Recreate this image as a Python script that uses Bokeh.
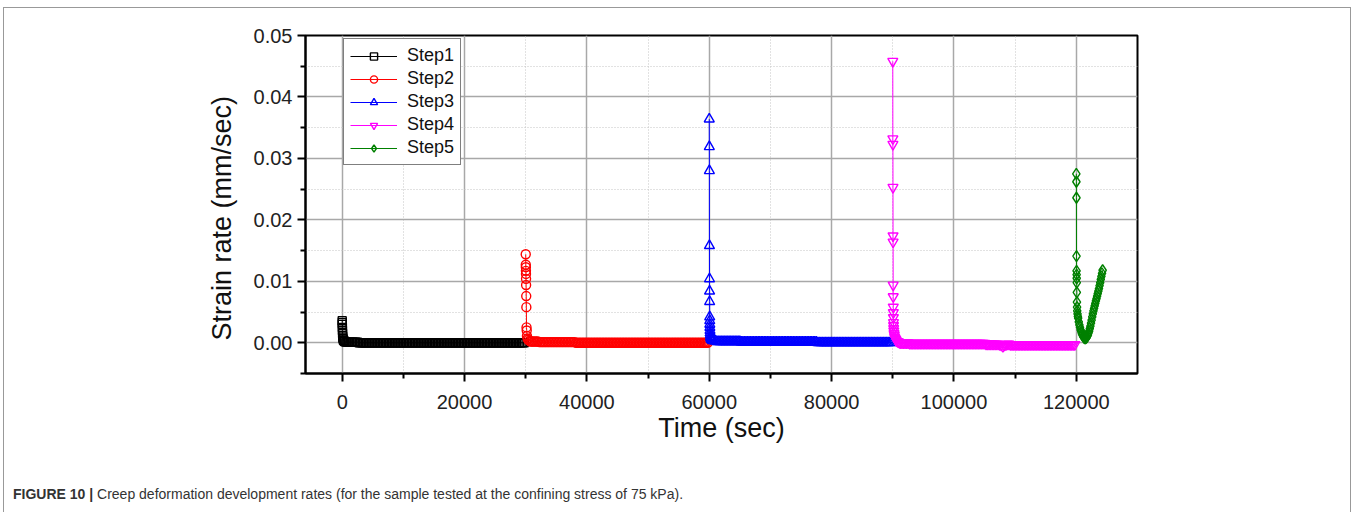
from bokeh.plotting import figure
from bokeh.models import (FixedTicker, PrintfTickFormatter, Legend, LegendItem,
                          Title, Range1d, Div)
from bokeh.layouts import column
from bokeh.embed import file_html
from bokeh.resources import INLINE

# ---------------- data ----------------
x_ticks = [0, 20000, 40000, 60000, 80000, 100000, 120000]
x_minor = [10000, 30000, 50000, 70000, 90000, 110000]
y_ticks = [0.00, 0.01, 0.02, 0.03, 0.04, 0.05]
y_minor = [-0.005, 0.005, 0.015, 0.025, 0.035, 0.045]

# Step 1: initial decay + long near-zero band
t1_start = [0, 10, 20, 30, 40, 60, 80, 100, 150, 200, 300, 400, 600, 800, 1000]
r1_start = [0.0036, 0.0033, 0.0030, 0.0025, 0.0020, 0.0015, 0.0011, 0.0008, 0.0006, 0.0004, 0.0003, 0.0002, 0.0001, 0.0001, 0.0001]
t1_band = [1250, 1500, 1750, 2000, 2250, 2500, 2750, 3000, 3250, 3500, 3750, 4000,
           4250, 4500, 4750, 5000, 5250, 5500, 5750, 6000, 6250, 6500, 6750, 7000,
           7250, 7500, 7750, 8000, 8250, 8500, 8750, 9000, 9250, 9500, 9750, 10000,
           10250, 10500, 10750, 11000, 11250, 11500, 11750, 12000, 12250, 12500, 12750, 13000,
           13250, 13500, 13750, 14000, 14250, 14500, 14750, 15000, 15250, 15500, 15750, 16000,
           16250, 16500, 16750, 17000, 17250, 17500, 17750, 18000, 18250, 18500, 18750, 19000,
           19250, 19500, 19750, 20000, 20250, 20500, 20750, 21000, 21250, 21500, 21750, 22000,
           22250, 22500, 22750, 23000, 23250, 23500, 23750, 24000, 24250, 24500, 24750, 25000,
           25250, 25500, 25750, 26000, 26250, 26500, 26750, 27000, 27250, 27500, 27750, 28000,
           28250, 28500, 28750, 29000, 29250, 29500, 29750]
r1_band = [0.0001, 0.0001, 0.0001, 0.0001, 0.0001, 0.0001, 0.0000, 0.0000, 0.0000, 0.0000, 0.0000, 0.0000,
           0.0000, 0.0000, 0.0000, 0.0000, 0.0000, 0.0000, 0.0000, 0.0000, 0.0000, 0.0000, 0.0000, 0.0000,
           0.0000, 0.0000, 0.0000, 0.0000, 0.0000, 0.0000, 0.0000, 0.0000, 0.0000, 0.0000, 0.0000, 0.0000,
           0.0000, 0.0000, 0.0000, 0.0000, 0.0000, 0.0000, 0.0000, 0.0000, 0.0000, 0.0000, 0.0000, 0.0000,
           0.0000, 0.0000, 0.0000, 0.0000, 0.0000, 0.0000, 0.0000, 0.0000, 0.0000, 0.0000, 0.0000, 0.0000,
           0.0000, 0.0000, 0.0000, 0.0000, 0.0000, 0.0000, 0.0000, 0.0000, 0.0000, 0.0000, 0.0000, 0.0000,
           0.0000, 0.0000, 0.0000, 0.0000, 0.0000, 0.0000, 0.0000, 0.0000, 0.0000, 0.0000, 0.0000, 0.0000,
           0.0000, 0.0000, 0.0000, 0.0000, 0.0000, 0.0000, 0.0000, 0.0000, 0.0000, 0.0000, 0.0000, 0.0000,
           0.0000, 0.0000, 0.0000, 0.0000, 0.0000, 0.0000, 0.0000, 0.0000, 0.0000, 0.0000, 0.0000, 0.0000,
           0.0000, 0.0000, 0.0000, 0.0000, 0.0000, 0.0000, 0.0000]

# Step 2
t2_start = [30000, 30010, 30020, 30030, 30040, 30050, 30060, 30080, 30100, 30130, 30160, 30200, 30300, 30400, 30600, 30800, 31000]
r2_start = [0.0144, 0.0127, 0.0123, 0.0117, 0.0112, 0.0104, 0.0094, 0.0076, 0.0058, 0.0025, 0.0020, 0.0011, 0.0007, 0.0005, 0.0003, 0.0002, 0.0002]
t2_band = [31250, 31500, 31750, 32000, 32250, 32500, 32750, 33000, 33250, 33500, 33750, 34000,
           34250, 34500, 34750, 35000, 35250, 35500, 35750, 36000, 36250, 36500, 36750, 37000,
           37250, 37500, 37750, 38000, 38250, 38500, 38750, 39000, 39250, 39500, 39750, 40000,
           40250, 40500, 40750, 41000, 41250, 41500, 41750, 42000, 42250, 42500, 42750, 43000,
           43250, 43500, 43750, 44000, 44250, 44500, 44750, 45000, 45250, 45500, 45750, 46000,
           46250, 46500, 46750, 47000, 47250, 47500, 47750, 48000, 48250, 48500, 48750, 49000,
           49250, 49500, 49750, 50000, 50250, 50500, 50750, 51000, 51250, 51500, 51750, 52000,
           52250, 52500, 52750, 53000, 53250, 53500, 53750, 54000, 54250, 54500, 54750, 55000,
           55250, 55500, 55750, 56000, 56250, 56500, 56750, 57000, 57250, 57500, 57750, 58000,
           58250, 58500, 58750, 59000, 59250, 59500, 59750]
r2_band = [0.0002, 0.0002, 0.0002, 0.0002, 0.0001, 0.0001, 0.0001, 0.0001, 0.0001, 0.0001, 0.0001, 0.0001,
           0.0001, 0.0001, 0.0001, 0.0001, 0.0001, 0.0001, 0.0001, 0.0001, 0.0001, 0.0001, 0.0001, 0.0001,
           0.0001, 0.0001, 0.0001, 0.0001, 0.0000, 0.0000, 0.0000, 0.0000, 0.0000, 0.0000, 0.0000, 0.0000,
           0.0000, 0.0000, 0.0000, 0.0000, 0.0000, 0.0000, 0.0000, 0.0000, 0.0000, 0.0000, 0.0000, 0.0000,
           0.0000, 0.0000, 0.0000, 0.0000, 0.0000, 0.0000, 0.0000, 0.0000, 0.0000, 0.0000, 0.0000, 0.0000,
           0.0000, 0.0000, 0.0000, 0.0000, 0.0000, 0.0000, 0.0000, 0.0000, 0.0000, 0.0000, 0.0000, 0.0000,
           0.0000, 0.0000, 0.0000, 0.0000, 0.0000, 0.0000, 0.0000, 0.0000, 0.0000, 0.0000, 0.0000, 0.0000,
           0.0000, 0.0000, 0.0000, 0.0000, 0.0000, 0.0000, 0.0000, 0.0000, 0.0000, 0.0000, 0.0000, 0.0000,
           0.0000, 0.0000, 0.0000, 0.0000, 0.0000, 0.0000, 0.0000, 0.0000, 0.0000, 0.0000, 0.0000, 0.0000,
           0.0000, 0.0000, 0.0000, 0.0000, 0.0000, 0.0000, 0.0000]

# Step 3
t3_start = [60000, 60010, 60020, 60030, 60040, 60050, 60060, 60070, 60080, 60090, 60100, 60120, 60140, 60170, 60200, 60250, 60300, 60400, 60500, 60700, 61000]
r3_start = [0.0364, 0.0319, 0.0280, 0.0158, 0.0104, 0.0084, 0.0067, 0.0042, 0.0036, 0.0030, 0.0025, 0.0020, 0.0016, 0.0013, 0.0010, 0.0008, 0.0006, 0.0005, 0.0004, 0.0003, 0.0003]
t3_band = [61250, 61500, 61750, 62000, 62250, 62500, 62750, 63000, 63250, 63500, 63750, 64000,
           64250, 64500, 64750, 65000, 65250, 65500, 65750, 66000, 66250, 66500, 66750, 67000,
           67250, 67500, 67750, 68000, 68250, 68500, 68750, 69000, 69250, 69500, 69750, 70000,
           70250, 70500, 70750, 71000, 71250, 71500, 71750, 72000, 72250, 72500, 72750, 73000,
           73250, 73500, 73750, 74000, 74250, 74500, 74750, 75000, 75250, 75500, 75750, 76000,
           76250, 76500, 76750, 77000, 77250, 77500, 77750, 78000, 78250, 78500, 78750, 79000,
           79250, 79500, 79750, 80000, 80250, 80500, 80750, 81000, 81250, 81500, 81750, 82000,
           82250, 82500, 82750, 83000, 83250, 83500, 83750, 84000, 84250, 84500, 84750, 85000,
           85250, 85500, 85750, 86000, 86250, 86500, 86750, 87000, 87250, 87500, 87750, 88000,
           88250, 88500, 88750, 89000, 89250, 89500, 89750]
r3_band = [0.0002, 0.0002, 0.0002, 0.0002, 0.0002, 0.0002, 0.0002, 0.0002, 0.0002, 0.0002, 0.0002, 0.0002,
           0.0002, 0.0002, 0.0002, 0.0002, 0.0001, 0.0001, 0.0001, 0.0001, 0.0001, 0.0001, 0.0001, 0.0001,
           0.0001, 0.0001, 0.0001, 0.0001, 0.0001, 0.0001, 0.0001, 0.0001, 0.0001, 0.0001, 0.0001, 0.0001,
           0.0001, 0.0001, 0.0001, 0.0001, 0.0001, 0.0001, 0.0001, 0.0001, 0.0001, 0.0001, 0.0001, 0.0001,
           0.0001, 0.0001, 0.0001, 0.0001, 0.0001, 0.0001, 0.0001, 0.0001, 0.0001, 0.0001, 0.0001, 0.0001,
           0.0001, 0.0001, 0.0001, 0.0001, 0.0001, 0.0001, 0.0000, 0.0000, 0.0000, 0.0000, 0.0000, 0.0000,
           0.0000, 0.0000, 0.0000, 0.0000, 0.0000, 0.0000, 0.0000, 0.0000, 0.0000, 0.0000, 0.0000, 0.0000,
           0.0000, 0.0000, 0.0000, 0.0000, 0.0000, 0.0000, 0.0000, 0.0000, 0.0000, 0.0000, 0.0000, 0.0000,
           0.0000, 0.0000, 0.0000, 0.0000, 0.0000, 0.0000, 0.0000, 0.0000, 0.0000, 0.0000, 0.0000, 0.0000,
           0.0000, 0.0000, 0.0000, 0.0000, 0.0000, 0.0000, 0.0000]

# Step 4
t4_start = [90000, 90010, 90020, 90030, 90040, 90050, 90060, 90070, 90080, 90090, 90100, 90110, 90120, 90140, 90160,
            90200, 90250, 90300, 90400, 90500, 90600, 90800, 91000, 91200, 91500]
r4_start = [0.0458, 0.0332, 0.0323, 0.0253, 0.0174, 0.0164, 0.0094, 0.0075, 0.0058, 0.0049, 0.0041, 0.0033, 0.0028, 0.0023, 0.0019,
            0.0015, 0.0012, 0.0009, 0.0007, 0.0005, 0.0003, 0.0002, 0.0001, 0.0000, 0.0000]
t4_band = [91750, 92000, 92250, 92500, 92750, 93000, 93250, 93500, 93750, 94000, 94250, 94500,
           94750, 95000, 95250, 95500, 95750, 96000, 96250, 96500, 96750, 97000, 97250, 97500,
           97750, 98000, 98250, 98500, 98750, 99000, 99250, 99500, 99750, 100000, 100250, 100500,
           100750, 101000, 101250, 101500, 101750, 102000, 102250, 102500, 102750, 103000, 103250, 103500,
           103750, 104000, 104250, 104500, 104750, 105000, 105250, 105500, 105750, 106000, 106250, 106500,
           106750, 107000, 107250, 107500, 107750, 108000, 108250, 108500, 108750, 109000, 109250, 109500,
           109750, 110000, 110250, 110500, 110750, 111000, 111250, 111500, 111750, 112000, 112250, 112500,
           112750, 113000, 113250, 113500, 113750, 114000, 114250, 114500, 114750, 115000, 115250, 115500,
           115750, 116000, 116250, 116500, 116750, 117000, 117250, 117500, 117750, 118000, 118250, 118500,
           118750, 119000, 119250, 119500, 119750]
r4_band = [0.0000, 0.0000, 0.0000, 0.0000, -0.0001, -0.0001, -0.0001, -0.0001, -0.0001, -0.0001, -0.0001, -0.0001,
           -0.0001, -0.0001, -0.0001, -0.0001, -0.0001, -0.0001, -0.0001, -0.0001, -0.0001, -0.0001, -0.0001, -0.0001,
           -0.0001, -0.0001, -0.0001, -0.0001, -0.0001, -0.0001, -0.0001, -0.0001, -0.0001, -0.0001, -0.0001, -0.0001,
           -0.0001, -0.0001, -0.0001, -0.0001, -0.0001, -0.0001, -0.0001, -0.0001, -0.0001, -0.0001, -0.0001, -0.0001,
           -0.0001, -0.0001, -0.0001, -0.0001, -0.0001, -0.0001, -0.0002, -0.0002, -0.0002, -0.0002, -0.0002, -0.0002,
           -0.0002, -0.0002, -0.0002, -0.0003, -0.0004, -0.0006, -0.0004, -0.0003, -0.0002, -0.0002, -0.0003, -0.0003,
           -0.0003, -0.0003, -0.0003, -0.0003, -0.0003, -0.0003, -0.0003, -0.0003, -0.0003, -0.0003, -0.0003, -0.0003,
           -0.0003, -0.0003, -0.0003, -0.0003, -0.0003, -0.0003, -0.0003, -0.0003, -0.0003, -0.0003, -0.0003, -0.0003,
           -0.0003, -0.0003, -0.0003, -0.0003, -0.0003, -0.0003, -0.0003, -0.0003, -0.0003, -0.0003, -0.0003, -0.0003,
           -0.0003, -0.0003, -0.0003, -0.0003, -0.0003]

# Step 5
t5 = [120000, 120010, 120020, 120030, 120040, 120050, 120060, 120070, 120080, 120100, 120120, 120150, 120200, 120250,
      120300, 120400, 120500, 120600, 120700, 120800, 120900, 121000, 121100, 121200,
      121300, 121400, 121500, 121600, 121700, 121800, 121900, 122000, 122100, 122200,
      122300, 122400, 122500, 122600, 122700, 122800, 122900, 123000, 123100, 123200,
      123300, 123400, 123500, 123600, 123700, 123800, 123900, 124000, 124100, 124200, 124300]
r5 = [0.0275, 0.0262, 0.0236, 0.0141, 0.0117, 0.0111, 0.0105, 0.0098, 0.0082, 0.0066, 0.0058, 0.0052, 0.0047, 0.0043,
      0.0040, 0.0034, 0.0029, 0.0025, 0.0021, 0.0018, 0.0015, 0.0013, 0.0011, 0.0009,
      0.0008, 0.0007, 0.0007, 0.0008, 0.0009, 0.0011, 0.0013, 0.0016, 0.0019, 0.0023,
      0.0027, 0.0032, 0.0037, 0.0042, 0.0047, 0.0052, 0.0056, 0.0060, 0.0064, 0.0068,
      0.0072, 0.0076, 0.0080, 0.0084, 0.0088, 0.0093, 0.0098, 0.0103, 0.0108, 0.0113, 0.0118]

t1 = t1_start + t1_band
r1 = r1_start + r1_band
t2 = t2_start + t2_band
r2 = r2_start + r2_band
t3 = t3_start + t3_band
r3 = r3_start + r3_band
t4 = t4_start + t4_band
r4 = r4_start + r4_band

series_names = ["Step1", "Step2", "Step3", "Step4", "Step5"]
series_t = [t1, t2, t3, t4, t5]
series_r = [r1, r2, r3, r4, r5]
for _t, _r in zip(series_t, series_r):
    assert len(_t) == len(_r), (len(_t), len(_r))

series_colors = ["#000000", "#ff0000", "#0000ff", "#ff00ff", "#008000"]
series_markers = ["square", "circle", "triangle", "inverted_triangle", "diamond"]
series_sizes = [8, 9, 10, 10, 11]

x_title = "Time (sec)"
y_title = "Strain rate (mm/sec)"
caption_bold = "FIGURE 10 |"
caption_text = "Creep deformation development rates (for the sample tested at the confining stress of 75 kPa)."

FONT = "Liberation Sans"

# ---------------- figure ----------------
p = figure(width=1346, height=450, output_backend="svg", toolbar_location=None,
           x_range=Range1d(-6000, 130000), y_range=Range1d(-0.005, 0.05),
           min_border_left=301, min_border_right=213, min_border_top=27, min_border_bottom=85,
           background_fill_color="white", border_fill_color="white")

p.outline_line_color = "black"
p.outline_line_width = 2

xt = FixedTicker(ticks=x_ticks, minor_ticks=x_minor)
yt = FixedTicker(ticks=y_ticks, minor_ticks=y_minor)
p.xaxis.ticker = xt
p.yaxis.ticker = yt
p.xgrid.ticker = xt
p.ygrid.ticker = yt
p.xaxis.formatter = PrintfTickFormatter(format="%d")
p.yaxis.formatter = PrintfTickFormatter(format="%.2f")

for ax in (p.xaxis, p.yaxis):
    ax.axis_line_color = "black"
    ax.axis_line_width = 2
    ax.major_tick_line_color = "black"
    ax.major_tick_line_width = 2
    ax.minor_tick_line_color = "black"
    ax.minor_tick_line_width = 2
    ax.major_tick_out = 8
    ax.major_tick_in = 0
    ax.minor_tick_out = 5
    ax.minor_tick_in = 0
    ax.major_label_text_font = FONT
    ax.major_label_text_font_size = "20px"
    ax.major_label_text_color = "#222222"
    ax.axis_label_text_font = FONT
    ax.axis_label_text_font_size = "27px"
    ax.axis_label_text_font_style = "normal"
    ax.axis_label_text_color = "#111111"

p.xaxis.axis_label = x_title
p.xaxis.major_label_standoff = 13
p.yaxis.major_label_standoff = 5
p.xaxis.axis_label_standoff = 1

# y title as a left-side Title; align="left" lets the offset move it along the axis
ytitle = Title(text=y_title, align="left", offset=33, standoff=27,
               text_font=FONT, text_font_size="27px", text_font_style="normal",
               text_color="#111111")
p.add_layout(ytitle, "left")

for g in (p.xgrid, p.ygrid):
    g.grid_line_color = "#a8a8a8"
    g.grid_line_width = 1.5
    g.minor_grid_line_color = "#c4c4c4"
    g.minor_grid_line_width = 1
    g.minor_grid_line_dash = "1 2"

items = []
for name, t, r, c, m, s in zip(series_names, series_t, series_r, series_colors, series_markers, series_sizes):
    lr = p.line(t, r, line_color=c, line_width=1)
    sr = p.scatter(t, r, marker=m, size=s, line_color=c, fill_color=None, line_width=1.4)
    items.append(LegendItem(label=name, renderers=[lr, sr]))

legend = Legend(items=items, location=(38, 208))
legend.border_line_color = "black"
legend.border_line_width = 1
legend.background_fill_color = "white"
legend.background_fill_alpha = 1
legend.label_text_font = FONT
legend.label_text_font_size = "18px"
legend.label_text_color = "#111111"
legend.glyph_width = 47
legend.glyph_height = 18
legend.label_height = 18
legend.spacing = 2
legend.padding = 6
legend.margin = 0
legend.label_standoff = 10
p.add_layout(legend)

caption = Div(
    text='<span style="font-weight:bold">' + caption_bold + '</span> ' + caption_text,
    width=1200, height=40, margin=(28, 0, 0, 9),
    styles={"font-family": FONT, "font-size": "14px", "color": "#333333",
            "white-space": "nowrap", "line-height": "16px"})

layout = column(p, caption, margin=(7, 0, 0, 3),
                styles={"border-left": "1.5px solid #999999",
                        "border-top": "1.5px solid #999999",
                        "border-right": "1.5px solid #999999",
                        "border-bottom": "1.5px solid #999999",
                        "background-color": "white"})

open("out.html", "w").write(file_html(layout, INLINE))
